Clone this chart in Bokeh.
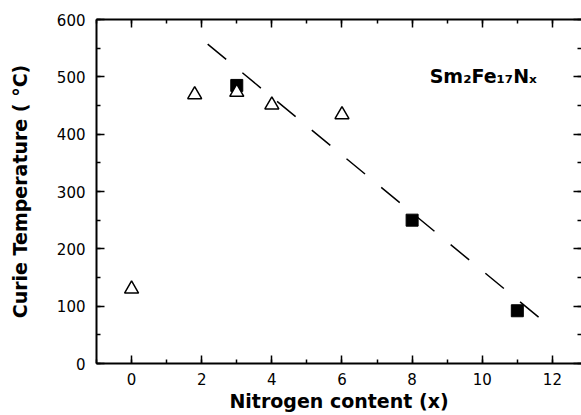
from bokeh.plotting import figure
from bokeh.models import (LinearAxis, Range1d, Label, SingleIntervalTicker,
                          CustomJSTickFormatter)
from bokeh.embed import file_html
from bokeh.resources import INLINE

# Data
tri_x = [0, 1.8, 3, 4, 6]
tri_y = [130, 469, 473, 451, 434]
sq_x = [3, 8, 11]
sq_y = [485, 250, 92]
fit_x = [2.17, 11.86]
fit_y = [557, 68]

FONT = "DejaVu Sans"

p = figure(width=581, height=415,
           x_range=Range1d(-1.0, 12.83), y_range=Range1d(0, 600),
           output_backend="svg", toolbar_location=None,
           min_border_left=96, min_border_right=0,
           min_border_top=19, min_border_bottom=52)
p.xgrid.visible = False
p.ygrid.visible = False
p.outline_line_color = None
p.background_fill_color = "white"
p.border_fill_color = "white"

p.xaxis.ticker = SingleIntervalTicker(interval=2, num_minor_ticks=2)
p.yaxis.ticker = SingleIntervalTicker(interval=100, num_minor_ticks=2)

def style(ax):
    ax.axis_line_width = 2
    ax.axis_line_color = "black"
    ax.major_tick_in = 8
    ax.major_tick_out = 0
    ax.minor_tick_in = 4
    ax.minor_tick_out = 0
    ax.major_tick_line_width = 1.5
    ax.minor_tick_line_width = 1.5
    ax.major_tick_line_color = "black"
    ax.minor_tick_line_color = "black"
    ax.major_label_text_font = FONT
    ax.major_label_text_font_size = "15px"
    ax.major_label_text_color = "black"
    ax.axis_label_text_font = FONT
    ax.axis_label_text_font_style = "bold"
    ax.axis_label_text_font_size = "19px"
    ax.axis_label_text_color = "black"

for ax in p.xaxis:
    style(ax)
    ax.major_label_standoff = 9
    ax.axis_label = "Nitrogen content (x)"
    ax.axis_label_standoff = 2
for ax in p.yaxis:
    style(ax)
    ax.major_label_standoff = 11
    ax.axis_label = "Curie Temperature ( °C)"
    ax.axis_label_standoff = 23

blank = CustomJSTickFormatter(code="return ''")

top = LinearAxis(ticker=SingleIntervalTicker(interval=2, num_minor_ticks=2),
                 formatter=blank)
style(top)
top.major_label_standoff = 0
p.add_layout(top, "above")

right = LinearAxis(ticker=SingleIntervalTicker(interval=100, num_minor_ticks=2),
                   formatter=blank)
style(right)
right.axis_line_color = None
right.major_label_standoff = 0
p.add_layout(right, "right")

p.line(fit_x, fit_y, line_color="black", line_width=1.5, line_dash="24 21")
p.scatter(sq_x, sq_y, marker="square", size=12, fill_color="black", line_color="black")
p.scatter(tri_x, tri_y, marker="triangle", size=14, fill_color="white",
          line_color="black", line_width=1.5)

p.add_layout(Label(x=8.5, y=501, text="Sm₂Fe₁₇Nₓ", text_font=FONT,
                   text_font_style="bold", text_font_size="19px",
                   text_color="black", text_baseline="alphabetic"))

open("out.html", "w").write(file_html(p, INLINE))
